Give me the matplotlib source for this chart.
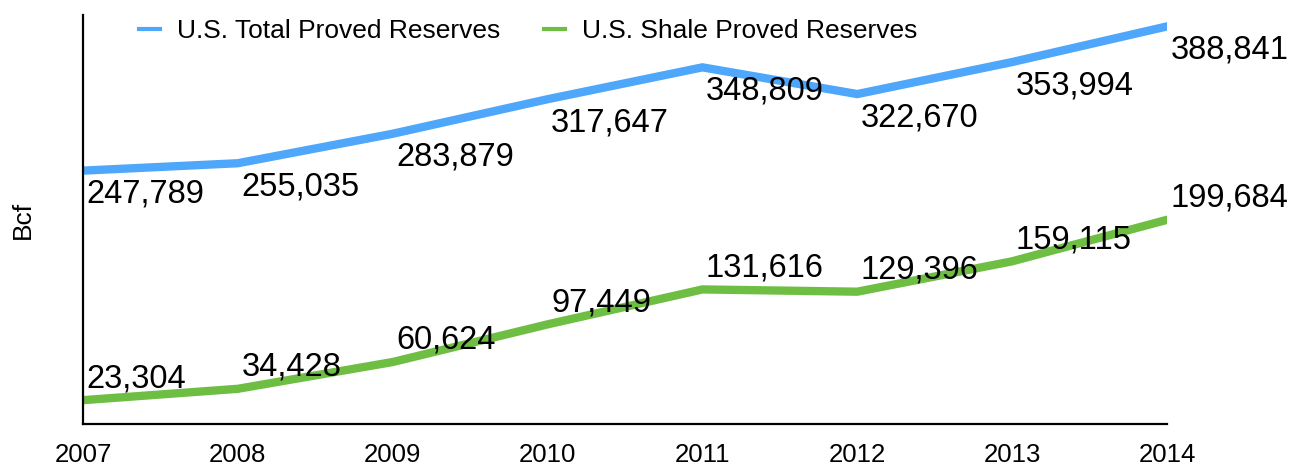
import matplotlib
matplotlib.use("Agg")
import matplotlib.pyplot as plt

plt.rcParams['font.family'] = ['Liberation Sans', 'DejaVu Sans']

years = [2007, 2008, 2009, 2010, 2011, 2012, 2013, 2014]
total_reserves = [247789, 255035, 283879, 317647, 348809, 322670, 353994, 388841]
shale_reserves = [23304, 34428, 60624, 97449, 131616, 129396, 159115, 199684]

blue = '#4ea7fb'
green = '#6fbe44'

fig = plt.figure(figsize=(12.91, 4.66), dpi=100)
ax = fig.add_axes([83 / 1291, 1 - 424 / 466, (1167 - 83) / 1291, (424 - 15) / 466])

ax.plot(years, total_reserves, color=blue, lw=6, solid_joinstyle='miter',
        label='U.S. Total Proved Reserves')
ax.plot(years, shale_reserves, color=green, lw=6, solid_joinstyle='miter',
        label='U.S. Shale Proved Reserves')

# value labels: total below the line, shale above it
for x, v in zip(years, total_reserves):
    ax.annotate(f'{v:,}', xy=(x, v), xytext=(2.5, -17), textcoords='offset points',
                ha='left', va='center', fontsize=23.5, clip_on=False)
for x, v in zip(years, shale_reserves):
    ax.annotate(f'{v:,}', xy=(x, v), xytext=(2.5, 15.5), textcoords='offset points',
                ha='left', va='center', fontsize=23.5, clip_on=False)

ax.set_xlim(2007, 2014)
ax.set_ylim(0, 400000)
ax.set_xticks(years)
ax.set_xticklabels([str(y) for y in years], fontsize=18.5)
ax.set_yticks([])
ax.tick_params(axis='x', length=0, pad=14)
ax.set_ylabel('Bcf', fontsize=19, labelpad=35)

for side in ['top', 'right']:
    ax.spines[side].set_visible(False)
for side in ['left', 'bottom']:
    ax.spines[side].set_linewidth(1.6)

leg = fig.legend(loc='upper left', bbox_to_anchor=(139 / 1291, 1 - 19 / 466),
                 ncol=2, frameon=False, fontsize=19, handlelength=0.8,
                 handletextpad=0.65, columnspacing=1.65, borderpad=0, borderaxespad=0)
for h in leg.get_lines():
    h.set_linewidth(3)

fig.savefig('out.png', dpi=100)
